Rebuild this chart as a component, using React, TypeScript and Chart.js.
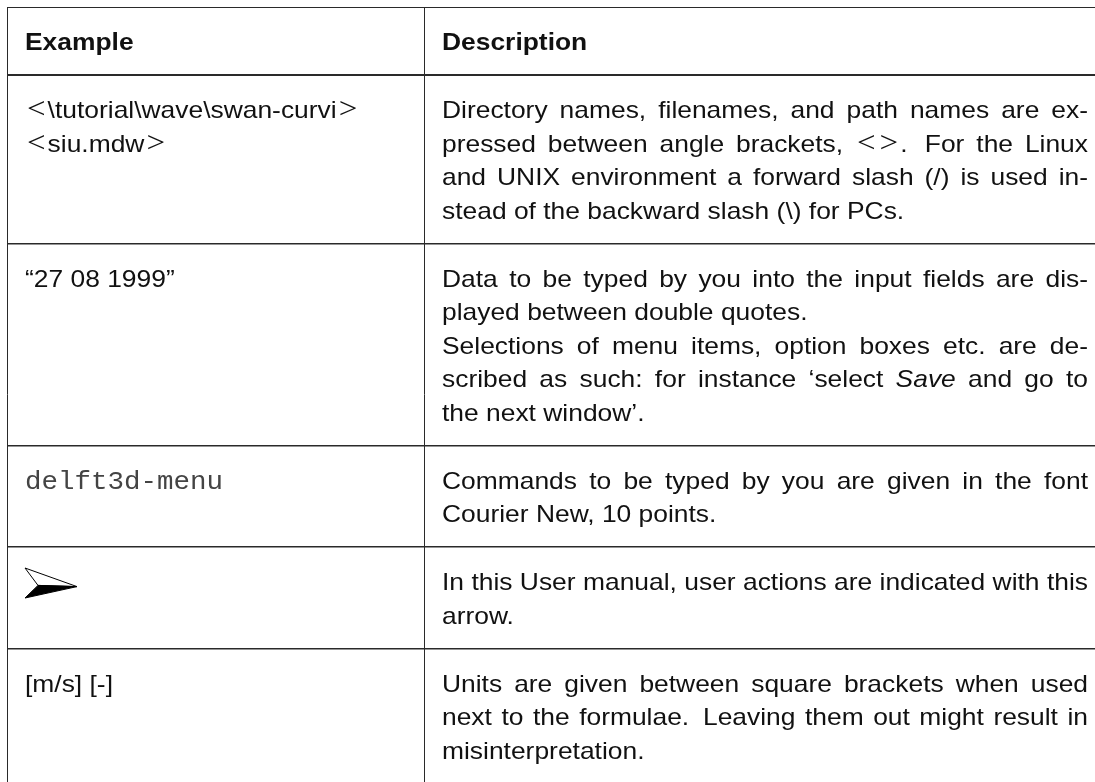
import { useEffect, useRef } from "react";
import { Chart, registerables } from "chart.js";

Chart.register(...registerables);

// ---------------- data (table content) ----------------
const columnHeaders = ["Example", "Description"];

const exampleLines: string[][] = [
  ["<\\tutorial\\wave\\swan-curvi>", "<siu.mdw>"],
  ["“27 08 1999”"],
  ["delft3d-menu"],
  [""],
  ["[m/s] [-]"],
];
const exampleKinds = ["text", "text", "mono", "arrow", "text"];

// each row: list of paragraphs, each paragraph: list of lines (last line not justified)
const descriptionParagraphs: string[][][] = [
  [[
    "Directory names, filenames, and path names are ex-",
    "pressed between angle brackets, <>.  For the Linux",
    "and UNIX environment a forward slash (/) is used in-",
    "stead of the backward slash (\\) for PCs.",
  ]],
  [
    ["Data to be typed by you into the input fields are dis-", "played between double quotes."],
    [
      "Selections of menu items, option boxes etc. are de-",
      "scribed as such: for instance ‘select *Save* and go to",
      "the next window’.",
    ],
  ],
  [["Commands to be typed by you are given in the font", "Courier New, 10 points."]],
  [["In this User manual, user actions are indicated with this", "arrow."]],
  [[
    "Units are given between square brackets when used",
    "next to the formulae.  Leaving them out might result in",
    "misinterpretation.",
  ]],
];

// ---------------- layout / style constants ----------------
const CANVAS_W = 1095;
const CANVAS_H = 782;
const TABLE_LEFT = 7;
const TABLE_TOP = 7;
const COLUMN_WIDTHS = [417, 682];
const LINE_H = 33.5;
const FIRST_BASE = 43;
const AFTER_LAST = 25;
const PAD_X = 18;
const SIZE = 24;
const STRETCH = 1.1;
const SANS = '"Liberation Sans", Arial, Helvetica, sans-serif';
const SERIF = '"Liberation Serif", "DejaVu Serif", serif';
const MONO = '"Liberation Mono", "DejaVu Sans Mono", monospace';
const TEXT_COLOR = "#111";
const LINE_COLOR = "#2a2a2a";

const lineCounts = exampleLines.map((ex, i) =>
  Math.max(ex.length, descriptionParagraphs[i].reduce((s, p) => s + p.length, 0))
);
const rowHeight = (n: number) => FIRST_BASE + (n - 1) * LINE_H + AFTER_LAST;
const rowEdges: number[] = [0, rowHeight(1)];
lineCounts.forEach((n) => rowEdges.push(rowEdges[rowEdges.length - 1] + rowHeight(n)));
const columnEdges: number[] = [0];
COLUMN_WIDTHS.forEach((w) => columnEdges.push(columnEdges[columnEdges.length - 1] + w));

// ---------------- text helpers ----------------
type Seg = { text: string; font: string; pad: number; w?: number };

function segmentsOf(word: string, baseFont: string, italicFont: string): Seg[] {
  const segs: Seg[] = [];
  let italic = false;
  let buf = "";
  const flush = () => {
    if (buf) segs.push({ text: buf, font: italic ? italicFont : baseFont, pad: 0 });
    buf = "";
  };
  for (const ch of word) {
    if (ch === "*") {
      flush();
      italic = !italic;
      continue;
    }
    if (ch === "<" || ch === ">") {
      flush();
      segs.push({ text: ch, font: `${SIZE + 6}px ${SERIF}`, pad: 2 });
      continue;
    }
    buf += ch;
  }
  flush();
  return segs;
}

function drawLine(
  ctx: CanvasRenderingContext2D,
  line: string,
  x: number,
  y: number,
  width: number | null,
  baseFont: string,
  italicFont: string
) {
  const parts = line.split(/( +)/).filter((p) => p.length > 0);
  ctx.font = baseFont;
  const space = ctx.measureText(" ").width * STRETCH;
  const items = parts.map((p) =>
    p.trim() === "" ? { gap: p.length > 1 ? 1.45 : 1, segs: [] as Seg[] } : { gap: 0, segs: segmentsOf(p, baseFont, italicFont) }
  );
  let natural = 0;
  let gapSum = 0;
  for (const it of items) {
    if (it.gap) {
      natural += space * it.gap;
      gapSum += it.gap;
    } else {
      for (const s of it.segs) {
        ctx.font = s.font;
        s.w = ctx.measureText(s.text).width * STRETCH + 2 * s.pad;
        natural += s.w;
      }
    }
  }
  const extra = width !== null && gapSum > 0 ? (width - natural) / gapSum : 0;
  let cx = x;
  for (const it of items) {
    if (it.gap) {
      cx += (space + extra) * it.gap;
      continue;
    }
    for (const s of it.segs) {
      ctx.font = s.font;
      ctx.save();
      ctx.translate(cx + s.pad, y);
      ctx.scale(STRETCH, 1);
      ctx.fillText(s.text, 0, 0);
      ctx.restore();
      cx += s.w || 0;
    }
  }
}

function drawArrow(ctx: CanvasRenderingContext2D, x: number, yc: number) {
  const w = 52;
  const h = 30;
  const top = yc - h / 2;
  const A = [x, top];
  const T = [x + w, top + h * 0.62];
  const N = [x + w * 0.25, top + h * 0.58];
  const B = [x, top + h];
  ctx.save();
  ctx.lineJoin = "miter";
  ctx.beginPath();
  ctx.moveTo(A[0], A[1]);
  ctx.lineTo(T[0], T[1]);
  ctx.lineTo(N[0], N[1]);
  ctx.closePath();
  ctx.fillStyle = "#fff";
  ctx.fill();
  ctx.strokeStyle = "#000";
  ctx.lineWidth = 1;
  ctx.stroke();
  ctx.beginPath();
  ctx.moveTo(N[0], N[1]);
  ctx.lineTo(T[0], T[1]);
  ctx.lineTo(B[0], B[1]);
  ctx.closePath();
  ctx.fillStyle = "#000";
  ctx.fill();
  ctx.stroke();
  ctx.restore();
}

const tableTextPlugin = {
  id: "tableText",
  afterDraw(chart: any) {
    const ctx: CanvasRenderingContext2D = chart.ctx;
    const xs = chart.scales.x;
    const ys = chart.scales.y;
    const colX = columnEdges.map((v) => xs.getPixelForValue(v));
    const rowY = rowEdges.map((v) => ys.getPixelForValue(v));
    const normal = `${SIZE}px ${SANS}`;
    const italic = `italic ${SIZE}px ${SANS}`;
    const bold = `bold ${SIZE}px ${SANS}`;
    const descWidth = colX[2] - colX[1] - 2 * PAD_X;
    ctx.save();
    ctx.fillStyle = TEXT_COLOR;
    ctx.textBaseline = "alphabetic";
    ctx.textAlign = "left";
    // header
    columnHeaders.forEach((h, c) => drawLine(ctx, h, colX[c] + PAD_X, rowY[0] + FIRST_BASE, null, bold, bold));
    // body
    exampleLines.forEach((lines, r) => {
      const top = rowY[r + 1];
      const kind = exampleKinds[r];
      if (kind === "arrow") {
        drawArrow(ctx, colX[0] + PAD_X, top + FIRST_BASE - 7);
      } else {
        const f = kind === "mono" ? `${SIZE + 1}px ${MONO}` : normal;
        ctx.fillStyle = kind === "mono" ? "#444" : TEXT_COLOR;
        lines.forEach((l, k) => drawLine(ctx, l, colX[0] + PAD_X, top + FIRST_BASE + k * LINE_H, null, f, f));
        ctx.fillStyle = TEXT_COLOR;
      }
      let k = 0;
      descriptionParagraphs[r].forEach((para) => {
        para.forEach((l, j) => {
          const last = j === para.length - 1;
          drawLine(ctx, l, colX[1] + PAD_X, top + FIRST_BASE + k * LINE_H, last ? null : descWidth, normal, italic);
          k++;
        });
      });
    });
    ctx.restore();
  },
};

export default function App() {
  const ref = useRef<HTMLCanvasElement>(null);
  useEffect(() => {
    const canvas = ref.current;
    if (!canvas) return;
    const chart = new Chart(canvas, {
      type: "scatter",
      data: { datasets: [] },
      options: {
        animation: false,
        responsive: false,
        maintainAspectRatio: false,
        devicePixelRatio: 1,
        events: [],
        layout: { padding: { left: TABLE_LEFT, top: TABLE_TOP, right: 0, bottom: 0 } },
        plugins: {
          legend: { display: false },
          tooltip: { enabled: false },
          title: { display: false },
        },
        scales: {
          x: {
            type: "linear",
            min: 0,
            max: CANVAS_W - TABLE_LEFT,
            ticks: { display: false },
            border: { display: false },
            grid: { drawTicks: false, color: LINE_COLOR, lineWidth: 1 },
            afterBuildTicks: (s: any) => {
              s.ticks = columnEdges.filter((v) => v <= s.max).map((v) => ({ value: v }));
            },
          },
          y: {
            type: "linear",
            reverse: true,
            min: 0,
            max: CANVAS_H - TABLE_TOP,
            ticks: { display: false },
            border: { display: false },
            grid: {
              drawTicks: false,
              color: LINE_COLOR,
              lineWidth: (c: any) => {
                const v = c.tick ? c.tick.value : -1;
                if (v === 0) return 1;
                if (v === rowEdges[1]) return 2;
                return 1.5;
              },
            },
            afterBuildTicks: (s: any) => {
              s.ticks = rowEdges.filter((v) => v <= s.max).map((v) => ({ value: v }));
            },
          },
        },
      } as any,
      plugins: [tableTextPlugin],
    });
    return () => chart.destroy();
  }, []);
  return (
    <div style={{ position: "fixed", left: 0, top: 0, width: CANVAS_W, height: CANVAS_H, background: "#fff" }}>
      <canvas ref={ref} width={CANVAS_W} height={CANVAS_H} style={{ display: "block", width: CANVAS_W, height: CANVAS_H }} />
    </div>
  );
}
